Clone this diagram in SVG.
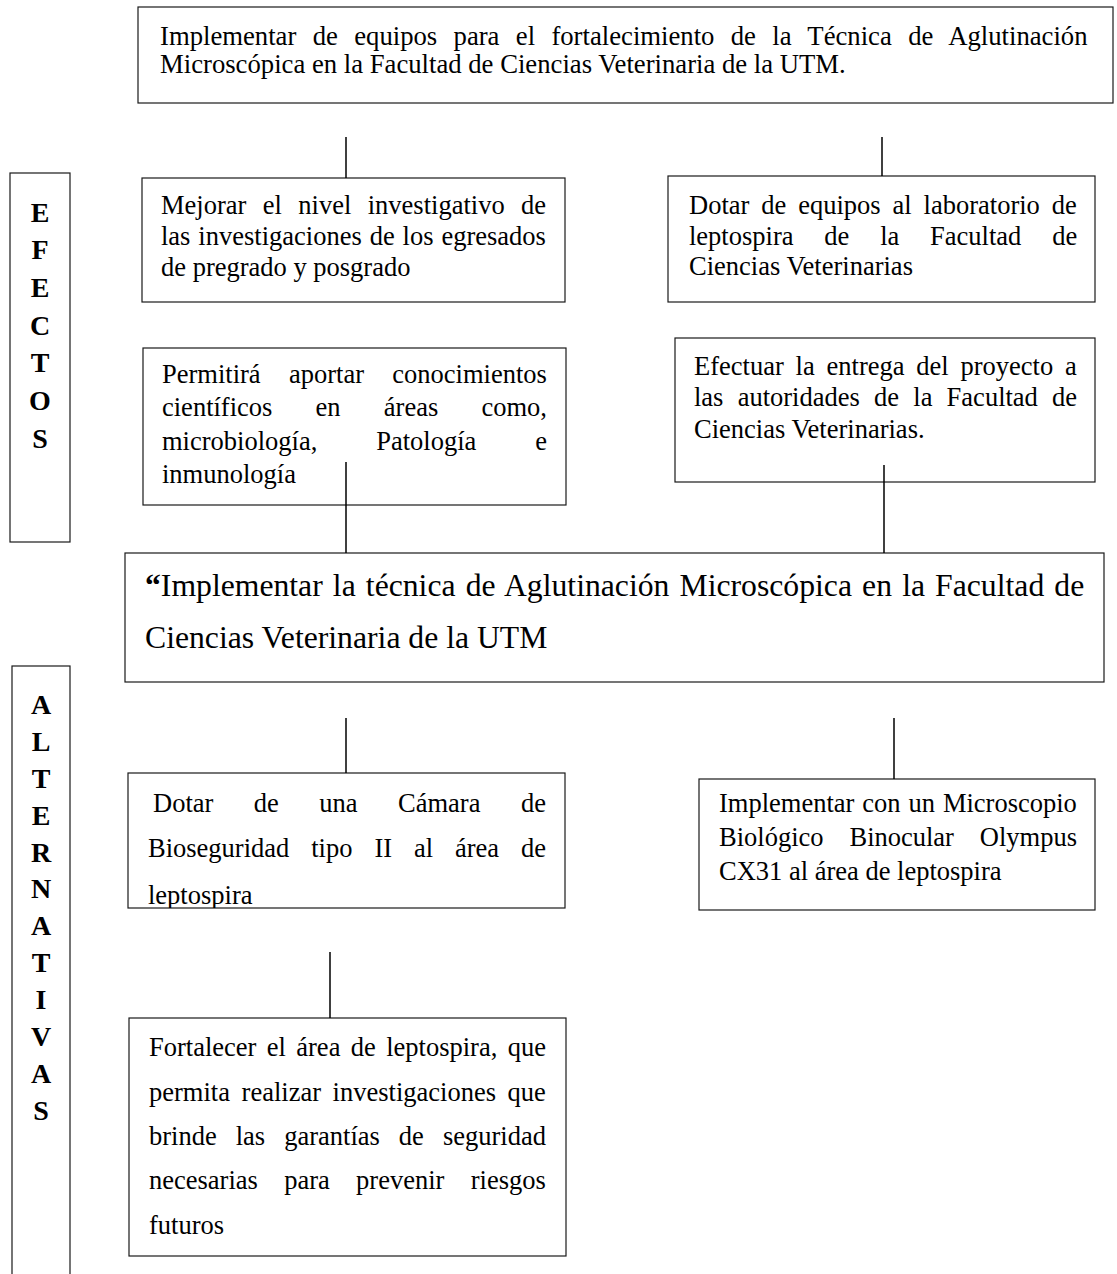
<svg xmlns="http://www.w3.org/2000/svg" width="1117" height="1274" viewBox="0 0 1117 1274">
<style>
.box{fill:#fff;stroke:#1a1a1a;stroke-width:1.2}
.t{font-family:"Liberation Serif","Times New Roman",serif;font-size:26.5px;fill:#000}
.tt{font-family:"Liberation Serif","Times New Roman",serif;font-size:26.7px;fill:#000}
.tm{font-family:"Liberation Serif","Times New Roman",serif;font-size:31.7px;fill:#000}
.lt{font-family:"Liberation Serif","Times New Roman",serif;font-size:28px;font-weight:bold;fill:#000;text-anchor:middle}
.conn line{stroke:#000;stroke-width:1.5}
</style>
<defs>
<clipPath id="clipCamara"><rect x="128" y="773" width="437" height="135"/></clipPath>
</defs>
<rect width="1117" height="1274" fill="#fff"/>

<g id="top">
<rect class="box" x="138" y="7" width="975" height="96"/>
<text class="tt" x="160" y="45" style="word-spacing:9.66px">Implementar de equipos para el fortalecimiento de la Técnica de Aglutinación</text>
<text class="tt" x="160" y="73">Microscópica en la Facultad de Ciencias Veterinaria de la UTM.</text>
</g>

<g id="efectos">
<rect class="box" x="10" y="173" width="60" height="369"/>
<text class="lt" x="40" y="222">E</text>
<text class="lt" x="40" y="259">F</text>
<text class="lt" x="40" y="297">E</text>
<text class="lt" x="40" y="335">C</text>
<text class="lt" x="40" y="372">T</text>
<text class="lt" x="40" y="410">O</text>
<text class="lt" x="40" y="448">S</text>
</g>

<g id="mejorar">
<rect class="box" x="142" y="178" width="423" height="124"/>
<text class="t" x="161" y="214" style="word-spacing:9.8px">Mejorar el nivel investigativo de</text>
<text class="t" x="161" y="245" style="word-spacing:1.3px">las investigaciones de los egresados</text>
<text class="t" x="161" y="276">de pregrado y posgrado</text>
</g>

<g id="dotar-equipos">
<rect class="box" x="668" y="176" width="427" height="126"/>
<text class="t" x="689" y="214" style="word-spacing:5.3px">Dotar de equipos al laboratorio de</text>
<text class="t" x="689" y="245" style="word-spacing:24.2px">leptospira de la Facultad de</text>
<text class="t" x="689" y="275">Ciencias Veterinarias</text>
</g>

<g id="permitira">
<rect class="box" x="143" y="348" width="423" height="157"/>
<text class="t" x="162" y="383" style="word-spacing:21.7px">Permitirá aportar conocimientos</text>
<text class="t" x="162" y="416" style="word-spacing:36.6px">científicos en áreas como,</text>
<text class="t" x="162" y="450" style="word-spacing:52.3px">microbiología, Patología e</text>
<text class="t" x="162" y="483">inmunología</text>
</g>

<g id="efectuar">
<rect class="box" x="675" y="338" width="420" height="144"/>
<text class="t" x="694" y="375" style="word-spacing:5.2px">Efectuar la entrega del proyecto a</text>
<text class="t" x="694" y="406" style="word-spacing:7.6px">las autoridades de la Facultad de</text>
<text class="t" x="694" y="438">Ciencias Veterinarias.</text>
</g>

<g id="principal">
<rect class="box" x="125" y="553" width="979" height="129"/>
<text class="tm" x="145" y="596" style="word-spacing:2.2px"><tspan font-weight="bold">“</tspan>Implementar la técnica de Aglutinación Microscópica en la Facultad de</text>
<text class="tm" x="145" y="648">Ciencias Veterinaria de la UTM</text>
</g>

<g id="alternativas">
<rect class="box" x="12" y="666" width="58" height="620"/>
<text class="lt" x="41" y="714">A</text>
<text class="lt" x="41" y="751">L</text>
<text class="lt" x="41" y="788">T</text>
<text class="lt" x="41" y="825">E</text>
<text class="lt" x="41" y="862">R</text>
<text class="lt" x="41" y="898">N</text>
<text class="lt" x="41" y="935">A</text>
<text class="lt" x="41" y="972">T</text>
<text class="lt" x="41" y="1009">I</text>
<text class="lt" x="41" y="1046">V</text>
<text class="lt" x="41" y="1083">A</text>
<text class="lt" x="41" y="1120">S</text>
</g>

<g id="camara">
<rect class="box" x="128" y="773" width="437" height="135"/>
<g clip-path="url(#clipCamara)">
<text class="t" x="153" y="812" style="word-spacing:33.85px">Dotar de una Cámara de</text>
<text class="t" x="148" y="857" style="word-spacing:15.3px">Bioseguridad tipo II al área de</text>
<text class="t" x="148" y="904">leptospira</text>
</g>
</g>

<g id="microscopio">
<rect class="box" x="699" y="779" width="396" height="131"/>
<text class="t" x="719" y="812" style="word-spacing:1.3px">Implementar con un Microscopio</text>
<text class="t" x="719" y="846" style="word-spacing:19.3px">Biológico Binocular Olympus</text>
<text class="t" x="719" y="880">CX31 al área de leptospira</text>
</g>

<g id="fortalecer">
<rect class="box" x="129" y="1018" width="437" height="238"/>
<text class="t" x="149" y="1056" style="word-spacing:3.75px">Fortalecer el área de leptospira, que</text>
<text class="t" x="149" y="1101" style="word-spacing:5px">permita realizar investigaciones que</text>
<text class="t" x="149" y="1145" style="word-spacing:12.4px">brinde las garantías de seguridad</text>
<text class="t" x="149" y="1189" style="word-spacing:19.7px">necesarias para prevenir riesgos</text>
<text class="t" x="149" y="1234">futuros</text>
</g>

<g id="connectors" class="conn">
<line x1="346" y1="137" x2="346" y2="178"/>
<line x1="882" y1="137" x2="882" y2="176"/>
<line x1="346" y1="462" x2="346" y2="553"/>
<line x1="884" y1="465" x2="884" y2="553"/>
<line x1="346" y1="718" x2="346" y2="773"/>
<line x1="894" y1="718" x2="894" y2="779"/>
<line x1="330" y1="952" x2="330" y2="1018"/>
</g>
</svg>
